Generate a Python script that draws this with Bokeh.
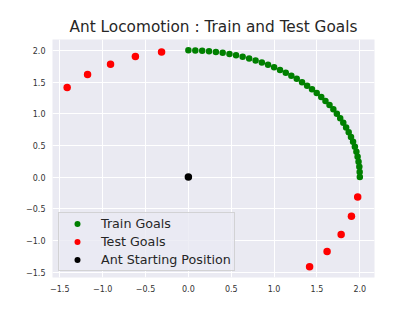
from bokeh.plotting import figure
from bokeh.models import Range1d, FixedTicker
from bokeh.embed import file_html
from bokeh.resources import INLINE

# Train goals (quarter circle of radius 2)
train_x = [2.000, 1.998, 1.994, 1.985, 1.974, 1.960, 1.942, 1.921, 1.897, 1.870,
           1.840, 1.807, 1.771, 1.732, 1.691, 1.646, 1.599, 1.550, 1.497, 1.442,
           1.385, 1.326, 1.264, 1.201, 1.136, 1.069, 1.000, 0.929, 0.857, 0.784,
           0.709, 0.633, 0.556, 0.479, 0.400, 0.321, 0.241, 0.161, 0.081, 0.000]
train_y = [0.000, 0.081, 0.161, 0.241, 0.321, 0.400, 0.479, 0.556, 0.633, 0.709,
           0.784, 0.857, 0.929, 1.000, 1.069, 1.136, 1.201, 1.264, 1.326, 1.385,
           1.442, 1.497, 1.550, 1.599, 1.646, 1.691, 1.732, 1.771, 1.807, 1.840,
           1.870, 1.897, 1.921, 1.942, 1.960, 1.974, 1.985, 1.994, 1.998, 2.000]

# Test goals
test_x = [-1.414, -1.176, -0.908, -0.618, -0.313, 1.975, 1.902, 1.782, 1.618, 1.414]
test_y = [1.414, 1.618, 1.782, 1.902, 1.975, -0.313, -0.618, -0.908, -1.176, -1.414]

# Ant starting position
start_x = [0.0]
start_y = [0.0]

ticks = [-1.5, -1.0, -0.5, 0.0, 0.5, 1.0, 1.5, 2.0]
tick_labels = ["\u22121.5", "\u22121.0", "\u22120.5", "0.0", "0.5", "1.0", "1.5", "2.0"]

FONT = "DejaVu Sans"

p = figure(width=408, height=304, output_backend="svg", toolbar_location=None,
           x_range=Range1d(-1.585, 2.171), y_range=Range1d(-1.585, 2.171),
           min_border_left=52, min_border_right=34, min_border_top=39, min_border_bottom=27,
           title="Ant Locomotion : Train and Test Goals")

p.title.text_font = FONT
p.title.text_font_size = "15.3px"
p.title.text_font_style = "normal"
p.title.text_color = "#262626"
p.title.align = "center"
p.title.standoff = 8

p.background_fill_color = "#EAEAF2"
p.border_fill_color = "white"
p.outline_line_color = None

for ax in (p.xaxis[0], p.yaxis[0]):
    ax.ticker = FixedTicker(ticks=ticks)
    ax.major_label_overrides = {t: l for t, l in zip(ticks, tick_labels)}
    ax.major_label_text_font = FONT
    ax.major_label_text_font_size = "8px"
    ax.major_label_text_color = "#333333"
    ax.axis_line_color = None
    ax.major_tick_line_color = None
    ax.minor_tick_line_color = None
    ax.major_tick_in = 0
    ax.major_tick_out = 0
    ax.major_label_standoff = 7

p.xgrid.grid_line_color = "white"
p.ygrid.grid_line_color = "white"
p.xgrid.grid_line_width = 1
p.ygrid.grid_line_width = 1

p.scatter(train_x, train_y, marker="circle", size=6.5, color="green", line_color=None,
          legend_label="Train Goals")
p.scatter(test_x, test_y, marker="circle", size=7.5, color="red", line_color=None,
          legend_label="Test Goals")
p.scatter(start_x, start_y, marker="circle", size=7.5, color="black", line_color=None,
          legend_label="Ant Starting Position")

lg = p.legend[0]
lg.location = "bottom_left"
lg.margin = 6
lg.padding = 3
lg.spacing = 3
lg.glyph_width = 30
lg.glyph_height = 15
lg.label_height = 15
lg.label_standoff = 9
lg.label_text_font = FONT
lg.label_text_font_size = "12.7px"
lg.label_text_color = "#262626"
lg.background_fill_color = "#EAEAF2"
lg.background_fill_alpha = 0.8
lg.border_line_color = "#CCCCCC"
lg.border_line_alpha = 0.8

open("out.html", "w").write(file_html(p, INLINE))
